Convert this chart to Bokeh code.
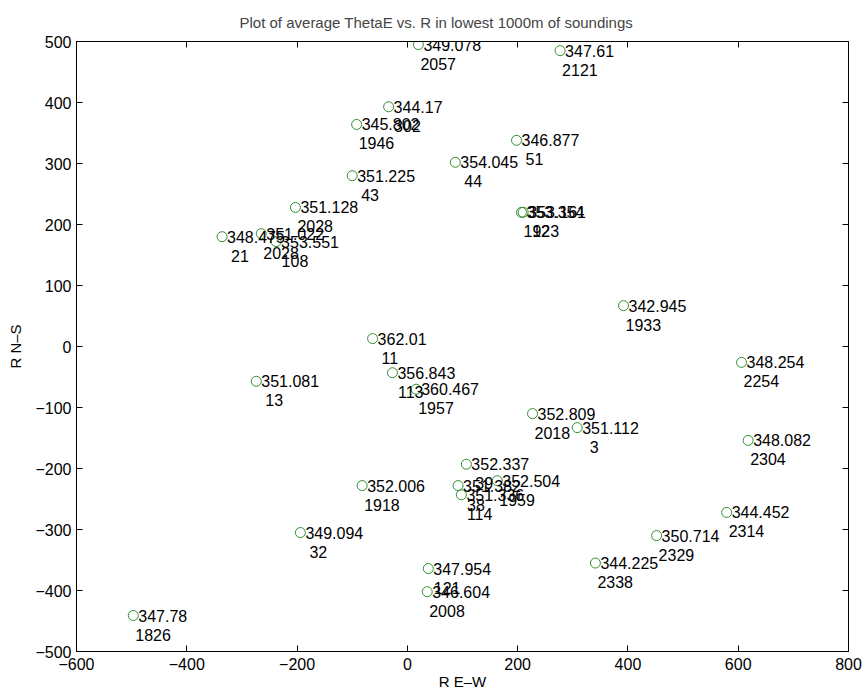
from bokeh.plotting import figure
from bokeh.models import ColumnDataSource, Range1d, LinearAxis, FixedTicker
from bokeh.core.properties import value
from bokeh.embed import file_html
from bokeh.resources import INLINE

# ---- data ----
r_ew = [20, 277, -34, -92, 198, 87, -100, 207, 210, -203, -336, -265, -238,
        392, -63, 606, -27, 16, -274, 227, 308, 618, 107, 163, 92, 98, -82,
        -194, 579, 452, 341, 38, 36, -497]
r_ns = [495, 485, 393, 364, 338, 302, 280, 220, 220, 228, 180, 185, 172,
        67, 13, -26, -43, -70, -57, -110, -133, -154, -193, -220, -228, -243,
        -228, -305, -272, -310, -355, -364, -402, -441]
theta_e = ["349.078", "347.61", "344.17", "345.802", "346.877", "354.045",
           "351.225", "353.354", "353.161", "351.128", "348.475", "351.022",
           "353.551", "342.945", "362.01", "348.254", "356.843", "360.467",
           "351.081", "352.809", "351.112", "348.082", "352.337", "352.504",
           "351.382", "351.336", "352.006", "349.094", "344.452", "350.714",
           "344.225", "347.954", "346.604", "347.78"]
sounding = ["2057", "2121", "302", "1946", "51", "44", "43", "1923", "12",
            "2028", "21", "2028", "108", "1933", "11", "2254", "113", "1957",
            "13", "2018", "3", "2304", "39", "1959", "38", "114", "1918", "32",
            "2314", "2329", "2338", "121", "2008", "1826"]

x_ticks = [-600, -400, -200, 0, 200, 400, 600, 800]
y_ticks = [-500, -400, -300, -200, -100, 0, 100, 200, 300, 400, 500]

FONT = "Liberation Sans"
GREEN = "#2f8f2f"

src = ColumnDataSource(dict(
    x=r_ew, y=r_ns, t=theta_e, s=sounding,
    off2=[2 + 3.5 * (4 - len(s)) for s in sounding],
))

p = figure(width=864, height=698, frame_width=772, frame_height=610,
           x_range=Range1d(-600, 800), y_range=Range1d(-500, 500),
           output_backend="svg", toolbar_location=None,
           min_border_left=76, min_border_right=16, min_border_top=41,
           min_border_bottom=47,
           title="Plot of average ThetaE vs. R in lowest 1000m of soundings")

p.title.text_font = FONT
p.title.text_font_size = "15px"
p.title.text_font_style = "normal"
p.title.align = "left"
p.title.offset = 163
p.title.standoff = 22

p.xgrid.visible = False
p.ygrid.visible = False
p.outline_line_color = "black"
p.outline_line_width = 1
p.background_fill_color = "white"
p.border_fill_color = "white"

for ax, ticks in ((p.xaxis[0], x_ticks), (p.yaxis[0], y_ticks)):
    ax.ticker = FixedTicker(ticks=ticks)
    ax.major_tick_in = 6
    ax.major_tick_out = 0
    ax.minor_tick_line_color = None
    ax.axis_line_color = "black"
    ax.major_tick_line_color = "black"
    ax.major_label_text_font = FONT
    ax.major_label_text_font_size = "16px"
    ax.major_label_text_color = "black"
    ax.axis_label_text_font = FONT
    ax.axis_label_text_font_size = "15px"
    ax.axis_label_text_font_style = "normal"
    ax.axis_label_text_color = "black"

p.xaxis[0].axis_label = "R E\u2013W"
p.yaxis[0].axis_label = "R N\u2013S"
p.xaxis[0].major_label_standoff = 6
p.xaxis[0].axis_label_standoff = 0
p.yaxis[0].major_label_standoff = 5
p.yaxis[0].axis_label_standoff = 8

top = LinearAxis(ticker=FixedTicker(ticks=x_ticks))
right = LinearAxis(ticker=FixedTicker(ticks=y_ticks))
for ax in (top, right):
    ax.major_tick_in = 6
    ax.major_tick_out = 0
    ax.minor_tick_line_color = None
    ax.major_label_text_font_size = "0px"
    ax.major_label_standoff = 0
    ax.axis_line_color = "black"
p.add_layout(top, "above")
p.add_layout(right, "right")

p.scatter("x", "y", source=src, marker="circle", size=10,
          line_color=GREEN, fill_color=None, line_width=1)
p.text("x", "y", text="t", source=src, x_offset=5, y_offset=0,
       text_baseline="middle", text_align="left",
       text_font=value(FONT), text_font_size="16px", text_color="black")
p.text("x", "y", text="s", source=src, x_offset="off2", y_offset=19,
       text_baseline="middle", text_align="left",
       text_font=value(FONT), text_font_size="16px", text_color="black")

open("out.html", "w").write(file_html(p, INLINE))
